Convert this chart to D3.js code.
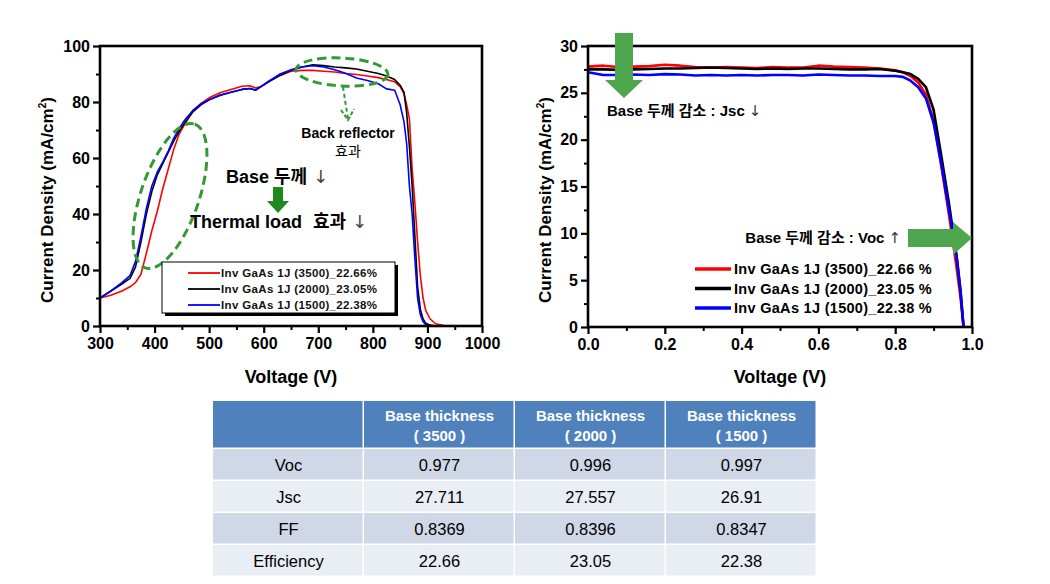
<!DOCTYPE html>
<html><head><meta charset="utf-8">
<script src="https://cdn.jsdelivr.net/npm/d3@7"></script>
<style>
body{margin:0;background:#fff}
svg{display:block}
text{font-family:"Liberation Sans",Arial,"Noto Sans CJK KR",sans-serif}
.arr{font-family:"DejaVu Sans","Liberation Sans",sans-serif;font-weight:normal}
</style>
</head><body>
<svg id="chart" width="1050" height="584"></svg>
<script>
// ---------- DATA ----------
const seriesNames = ["Inv GaAs 1J (3500)_22.66%", "Inv GaAs 1J (2000)_23.05%", "Inv GaAs 1J (1500)_22.38%"];
const seriesNamesJV = ["Inv GaAs 1J (3500)_22.66 %", "Inv GaAs 1J (2000)_23.05 %", "Inv GaAs 1J (1500)_22.38 %"];
const seriesColors = ["#ff0000", "#000000", "#0000ff"];

// Left panel (x = "Voltage (V)" axis 300-1000)
const leftX = [300,320,340,355,365,375,385,395,405,415,425,435,445,455,470,485,500,520,540,560,575,585,595,610,630,650,670,690,710,730,750,770,790,810,825,840,850,857,862,867,872,877,882,887,892,897,905,915,930,1000];
const left3500 = [10,11,12.5,14,15.5,18.5,26,34,41,49,56,63,68.5,72,76.5,79.5,81.5,83.3,84.5,85.6,85.8,85,85.5,87.5,89.5,91,91.3,91.3,91,90.7,90.2,89.8,89.3,88.7,88,87.2,85.5,83,79,74,56,44,30,18,10,5.5,2.5,0.8,0.2,0];
const left2000 = [10,12.5,15,17,21,30,40,48,54,58,62,66,69.5,72.5,76.5,79,80.8,82.5,83.5,84.5,84.8,84.2,85.5,87.3,89.5,91.3,92.5,93.3,93,92.5,92.2,91.8,91,90.2,89.3,88,86,83.5,76,64,50,32,14,6,2.5,1,0.3,0,0,0];
const left1500 = [10,12.5,15.5,18,23,32,42,50,55,58.5,62.5,67,70.5,73.5,77,79.3,80.8,82.3,83.5,84.5,84.8,84.3,85.5,87.5,90,91.5,92.5,93,92.5,91.5,90.3,88.6,87.7,86.5,84.7,84.2,79,73,65,50,40,24,10,4,1.5,0.5,0,0,0,0];
const leftXTicks = [300,400,500,600,700,800,900,1000];
const leftYTicks = [0,20,40,60,80,100];

// Right panel (J-V)
const rightX = [0,0.04,0.08,0.12,0.16,0.2,0.24,0.28,0.32,0.36,0.4,0.44,0.48,0.52,0.56,0.6,0.64,0.68,0.72,0.76,0.8,0.82,0.84,0.86,0.88,0.9,0.92,0.94,0.96,0.97,0.978];
const right3500 = [27.8,27.9,27.75,27.8,27.85,28.0,27.9,27.75,27.7,27.75,27.7,27.65,27.75,27.7,27.7,27.9,27.8,27.75,27.7,27.6,27.4,27.2,26.8,26.1,24.8,22.0,17.2,12.0,6.3,3.2,0];
const right2000 = [27.5,27.5,27.45,27.5,27.55,27.6,27.6,27.65,27.7,27.65,27.6,27.55,27.6,27.55,27.6,27.6,27.55,27.5,27.5,27.55,27.35,27.2,27.0,26.5,25.6,23.2,18.3,13.2,7.5,3.8,0];
const right1500 = [27.2,26.9,26.9,26.95,26.9,27.0,26.95,26.85,26.9,26.85,26.9,26.85,26.9,26.9,26.85,26.95,26.9,26.85,26.85,26.8,26.8,26.7,26.3,25.6,24.4,21.8,17.4,12.5,7.5,4.0,0];
const rightXTicks = [0,0.2,0.4,0.6,0.8,1.0];
const rightYTicks = [0,5,10,15,20,25,30];

// Table
const tableHeader = [["", ""], ["Base thickness", "( 3500 )"], ["Base thickness", "( 2000 )"], ["Base thickness", "( 1500 )"]];
const tableRows = [
  ["Voc", "0.977", "0.996", "0.997"],
  ["Jsc", "27.711", "27.557", "26.91"],
  ["FF", "0.8369", "0.8396", "0.8347"],
  ["Efficiency", "22.66", "23.05", "22.38"]
];

// ---------- DRAW ----------
const svg = d3.select("#chart");
const FONT_B = "bold";

function panel(cfg) {
  const x = d3.scaleLinear().domain(cfg.xDom).range([cfg.left, cfg.right]);
  const y = d3.scaleLinear().domain(cfg.yDom).range([cfg.bottom, cfg.top]);
  const g = svg.append("g");
  g.append("g").attr("transform", `translate(0,${cfg.bottom})`)
    .call(d3.axisBottom(x).tickValues(cfg.xMinor).tickSize(4).tickFormat(""))
    .call(s => { s.select(".domain").remove(); s.selectAll("line").attr("stroke-width", 2); });
  g.append("g").attr("transform", `translate(${cfg.left},0)`)
    .call(d3.axisLeft(y).tickValues(cfg.yMinor).tickSize(4).tickFormat(""))
    .call(s => { s.select(".domain").remove(); s.selectAll("line").attr("stroke-width", 2); });
  g.append("g").attr("transform", `translate(0,${cfg.bottom})`)
    .call(d3.axisBottom(x).tickValues(cfg.xTicks).tickSize(7).tickPadding(5).tickFormat(cfg.xFmt))
    .call(s => {
      s.select(".domain").remove();
      s.selectAll("line").attr("stroke-width", 2.2);
      s.selectAll("text").attr("font-size", 16).attr("font-weight", FONT_B).attr("fill", "#000");
    });
  g.append("g").attr("transform", `translate(${cfg.left},0)`)
    .call(d3.axisLeft(y).tickValues(cfg.yTicks).tickSize(7).tickPadding(3).tickFormat(d3.format("d")))
    .call(s => {
      s.select(".domain").remove();
      s.selectAll("line").attr("stroke-width", 2.2);
      s.selectAll("text").attr("font-size", 16).attr("font-weight", FONT_B).attr("fill", "#000");
    });
  const line = d3.line().x(d => x(d[0])).y(d => y(d[1]));
  cfg.series.forEach((vals, i) => {
    g.append("path").datum(cfg.xs.map((v, k) => [v, vals[k]]))
      .attr("d", line).attr("fill", "none").attr("stroke", seriesColors[i])
      .attr("stroke-width", cfg.lw).attr("stroke-linejoin", "round");
  });
  g.append("rect").attr("x", cfg.left).attr("y", cfg.top)
    .attr("width", cfg.right - cfg.left).attr("height", cfg.bottom - cfg.top)
    .attr("fill", "none").attr("stroke", "#000").attr("stroke-width", 2.6);
  g.append("text").attr("x", (cfg.left + cfg.right) / 2).attr("y", 383)
    .attr("text-anchor", "middle").attr("font-size", 18).attr("font-weight", FONT_B)
    .text("Voltage (V)");
  const yt = g.append("text").attr("transform", `translate(${cfg.yTitleX},200) rotate(-90)`)
    .attr("text-anchor", "middle").attr("font-size", 17).attr("font-weight", FONT_B);
  yt.append("tspan").text("Current Density (mA/cm");
  yt.append("tspan").attr("font-size", 10).attr("dy", -7).text("2");
  yt.append("tspan").attr("dy", 7).text(")");
  return {x, y, g};
}

const L = panel({
  xDom: [300, 1000], yDom: [0, 100], left: 100, right: 482, top: 46, bottom: 326,
  xTicks: leftXTicks, yTicks: leftYTicks,
  xMinor: d3.range(350, 1000, 100), yMinor: d3.range(10, 100, 20),
  xFmt: d3.format("d"), xs: leftX, series: [left3500, left2000, left1500], lw: 1.6, yTitleX: 53
});

const R = panel({
  xDom: [0, 1], yDom: [0, 30], left: 588, right: 972, top: 46, bottom: 327,
  xTicks: rightXTicks, yTicks: rightYTicks,
  xMinor: d3.range(0.1, 1, 0.2), yMinor: d3.range(2.5, 30, 5),
  xFmt: d3.format(".1f"), xs: rightX, series: [right3500, right2000, right1500], lw: 2.6, yTitleX: 551
});

// ---- Left annotations ----
const dashG = "#339933";
svg.append("ellipse").attr("cx", 0).attr("cy", 0).attr("rx", 76).attr("ry", 29)
  .attr("transform", "translate(170,196) rotate(-71)")
  .attr("fill", "none").attr("stroke", dashG).attr("stroke-width", 3).attr("stroke-dasharray", "9,5");
svg.append("ellipse").attr("cx", 0).attr("cy", 0).attr("rx", 46).attr("ry", 14)
  .attr("transform", "translate(342,72) rotate(3)")
  .attr("fill", "none").attr("stroke", dashG).attr("stroke-width", 3).attr("stroke-dasharray", "9,5");
svg.append("line").attr("x1", 343).attr("y1", 87).attr("x2", 348).attr("y2", 119)
  .attr("stroke", dashG).attr("stroke-width", 2).attr("stroke-dasharray", "4,3");
svg.append("polyline").attr("points", "341,110 348,120 354,109")
  .attr("fill", "none").attr("stroke", dashG).attr("stroke-width", 2).attr("stroke-dasharray", "4,2");

svg.append("text").attr("x", 348).attr("y", 138).attr("text-anchor", "middle")
  .attr("font-size", 14).attr("font-weight", FONT_B).text("Back reflector");
svg.append("text").attr("x", 348).attr("y", 156).attr("text-anchor", "middle")
  .attr("font-size", 14).text("효과");

const t1 = svg.append("text").attr("x", 226).attr("y", 183).attr("font-size", 18).attr("font-weight", FONT_B);
t1.append("tspan").text("Base 두께");
t1.append("tspan").attr("class", "arr").attr("dx", 6).attr("font-size", 18).attr("fill", "#444").text("↓");
const t2 = svg.append("text").attr("x", 190).attr("y", 228).attr("font-size", 18).attr("font-weight", FONT_B);
t2.append("tspan").text("Thermal load");
t2.append("tspan").attr("dx", 11).text("효과");
t2.append("tspan").attr("class", "arr").attr("dx", 6).attr("font-size", 18).attr("fill", "#444").text("↓");

svg.append("path").attr("d", "M273,187 L283,187 L283,201 L289,201 L278,213 L267,201 L273,201 Z")
  .attr("fill", "#1e8a1e");

// Left legend
svg.append("rect").attr("x", 165).attr("y", 265).attr("width", 233).attr("height", 51).attr("fill", "#000");
svg.append("rect").attr("x", 162).attr("y", 262).attr("width", 233).attr("height", 51)
  .attr("fill", "#fff").attr("stroke", "#000").attr("stroke-width", 1);
seriesNames.forEach((n, i) => {
  const yy = 273 + i * 16;
  svg.append("line").attr("x1", 188).attr("x2", 220).attr("y1", yy).attr("y2", yy)
    .attr("stroke", seriesColors[i]).attr("stroke-width", 1.8);
  svg.append("text").attr("x", 221).attr("y", yy + 4).attr("font-size", 11.5)
    .attr("font-weight", FONT_B).attr("letter-spacing", 0.35).attr("fill", "#111").text(n);
});

// ---- Right annotations ----
const arrowG = "#4ea64e";
svg.append("path").attr("d", "M615,33 L633,33 L633,80 L643,80 L624,98 L605,80 L615,80 Z").attr("fill", arrowG);
const t3 = svg.append("text").attr("x", 607).attr("y", 116).attr("font-size", 15).attr("font-weight", FONT_B);
t3.append("tspan").text("Base 두께 감소 : Jsc");
t3.append("tspan").attr("class", "arr").attr("dx", 4).attr("font-size", 15).attr("fill", "#333").text("↓");
svg.append("path").attr("d", "M908,229 L953,229 L953,222 L972,238 L953,255 L953,247 L908,247 Z").attr("fill", arrowG);
const t4 = svg.append("text").attr("x", 901).attr("y", 243).attr("text-anchor", "end").attr("font-size", 15).attr("font-weight", FONT_B);
t4.append("tspan").text("Base 두께 감소 : Voc");
t4.append("tspan").attr("class", "arr").attr("dx", 4).attr("font-size", 15).attr("fill", "#333").text("↑");

seriesNamesJV.forEach((n, i) => {
  const yy = 269 + i * 19.5;
  svg.append("line").attr("x1", 695).attr("x2", 731).attr("y1", yy).attr("y2", yy)
    .attr("stroke", seriesColors[i]).attr("stroke-width", 3.5);
  svg.append("text").attr("x", 734).attr("y", yy + 5).attr("font-size", 14.5)
    .attr("font-weight", FONT_B).attr("letter-spacing", 0.3).text(n);
});

// ---- Table ----
const colX = [213, 364, 515, 666, 817];
const rowY = [401, 449, 481, 513, 545, 577];
const rowFill = ["#4f81bd", "#d0d8e8", "#e9edf4", "#d0d8e8", "#e9edf4"];
const tg = svg.append("g");
for (let r = 0; r < 5; r++) {
  for (let c = 0; c < 4; c++) {
    tg.append("rect").attr("x", colX[c]).attr("y", rowY[r])
      .attr("width", colX[c + 1] - colX[c] - 1.5).attr("height", rowY[r + 1] - rowY[r] - 1.5)
      .attr("fill", rowFill[r]);
  }
}
tableHeader.forEach((h, c) => {
  const cx = (colX[c] + colX[c + 1]) / 2;
  tg.append("text").attr("x", cx).attr("y", 421).attr("text-anchor", "middle")
    .attr("font-size", 15).attr("font-weight", FONT_B).attr("fill", "#fff").text(h[0]);
  tg.append("text").attr("x", cx).attr("y", 441).attr("text-anchor", "middle")
    .attr("font-size", 15).attr("font-weight", FONT_B).attr("fill", "#fff").text(h[1]);
});
tableRows.forEach((row, r) => {
  row.forEach((v, c) => {
    tg.append("text").attr("x", (colX[c] + colX[c + 1]) / 2).attr("y", (rowY[r + 1] + rowY[r + 2]) / 2 + 6)
      .attr("text-anchor", "middle").attr("font-size", 16.5).attr("fill", "#000").text(v);
  });
});
</script>
</body></html>
